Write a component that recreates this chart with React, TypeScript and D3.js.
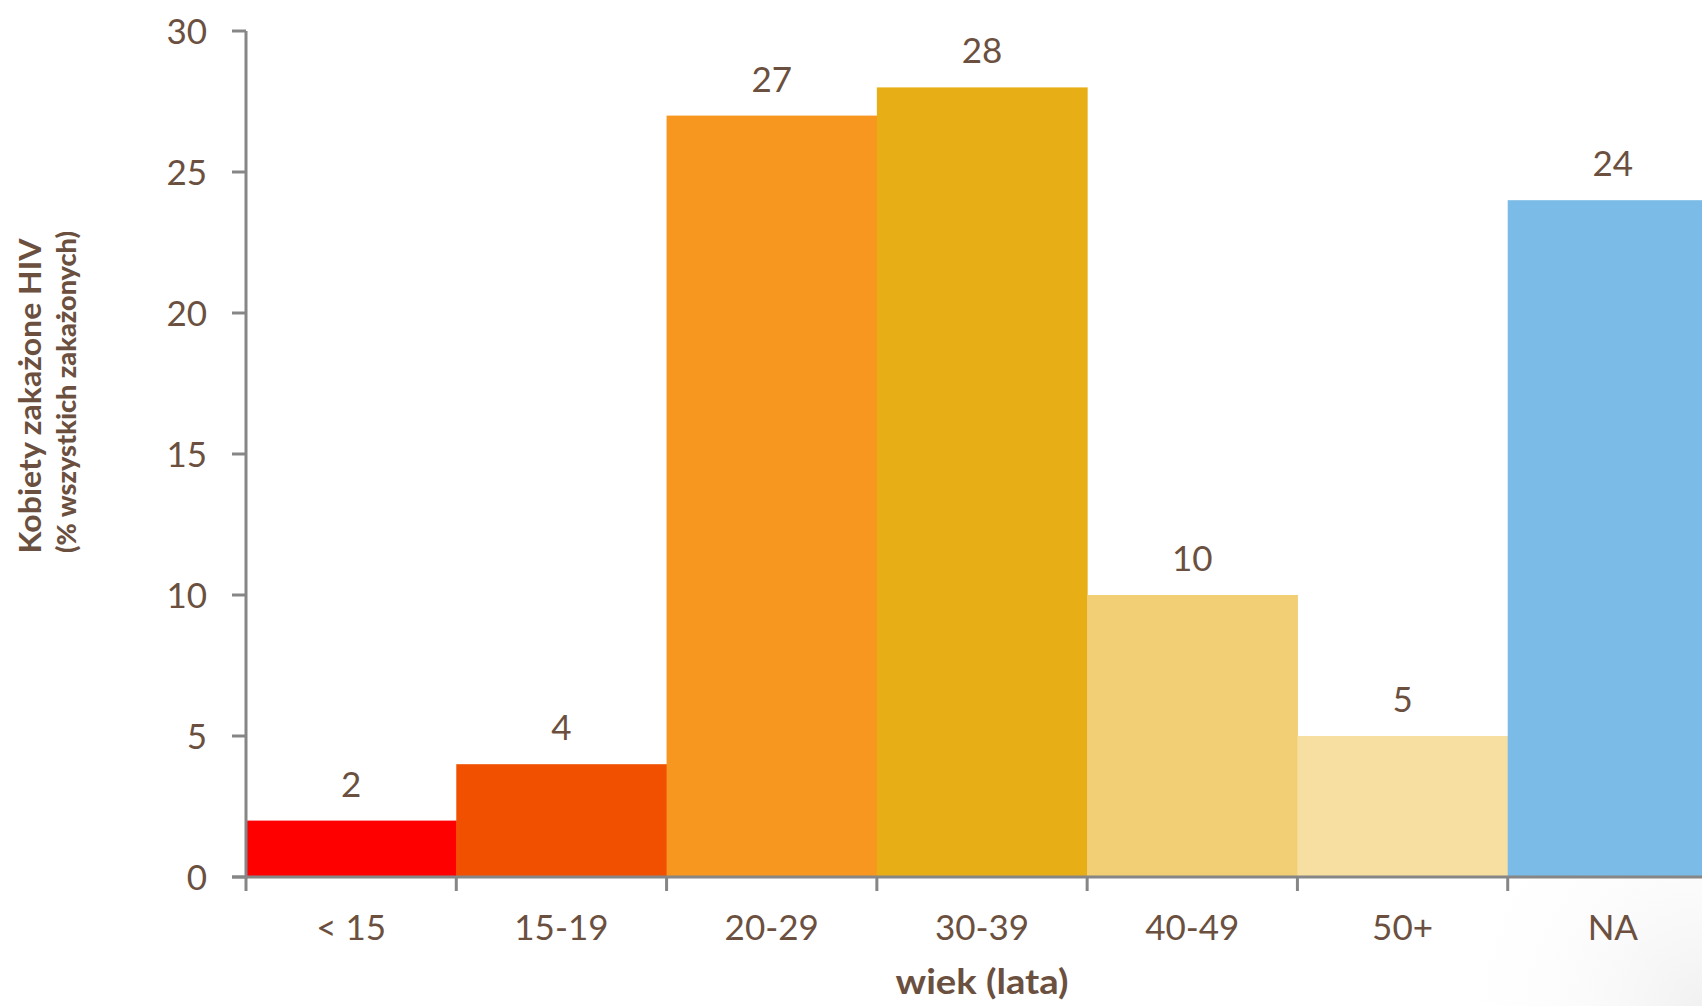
import React from "react";
import * as d3 from "d3";

const categories = ["< 15", "15-19", "20-29", "30-39", "40-49", "50+", "NA"];
const values = [2, 4, 27, 28, 10, 5, 24];
const colors = ["#FF0000", "#F05000", "#F7971F", "#E8AE16", "#F2CE75", "#F6DFA0", "#7BBBE7"];
const yTicks = [0, 5, 10, 15, 20, 25, 30];
const yTitle = "Kobiety zakażone HIV";
const ySubtitle = "(% wszystkich zakażonych)";
const xTitle = "wiek (lata)";

const W = 1702;
const H = 1006;
const left = 246;
const right = 1718;
const top = 31;
const bottom = 877;
const textColor = "#6B5040";
const axisColor = "#868686";
const font = "Lato, 'Open Sans', sans-serif";

export default function App() {
  const x = d3.scaleBand<string>().domain(categories).range([left, right]).padding(0);
  const y = d3.scaleLinear().domain([0, 30]).range([bottom, top]);
  const bw = x.bandwidth();
  const bounds = categories.map((c) => x(c) as number).concat([right]);

  return (
    <div style={{ position: "fixed", left: 0, top: 0, width: W, height: H, background: "#fff" }}>
      <svg width={W} height={H} style={{ display: "block" }}>
        <defs>
          <radialGradient id="corner" cx={W} cy={H} r={260} gradientUnits="userSpaceOnUse">
            <stop offset="0" stopColor="#f1f1f1" />
            <stop offset="1" stopColor="#ffffff" stopOpacity="0" />
          </radialGradient>
        </defs>
        <rect x={0} y={0} width={W} height={H} fill="#fff" />
        <rect x={W - 300} y={H - 300} width={300} height={300} fill="url(#corner)" />

        {categories.map((c, i) => (
          <rect
            key={c}
            x={x(c) as number}
            y={y(values[i])}
            width={bw + 0.5}
            height={bottom - y(values[i])}
            fill={colors[i]}
          />
        ))}

        {categories.map((c, i) => (
          <text
            key={"v" + c}
            x={(x(c) as number) + bw / 2}
            y={y(values[i]) - 24}
            textAnchor="middle"
            fontFamily={font}
            fontSize={35}
            fill={textColor}
          >
            {values[i]}
          </text>
        ))}

        {/* y axis */}
        <line x1={left} x2={left} y1={top} y2={bottom + 1.5} stroke={axisColor} strokeWidth={3} />
        {yTicks.map((t) => (
          <g key={"yt" + t}>
            <line x1={left - 14} x2={left} y1={y(t)} y2={y(t)} stroke={axisColor} strokeWidth={3} />
            <text
              x={207}
              y={y(t)}
              dy="0.36em"
              textAnchor="end"
              fontFamily={font}
              fontSize={35}
              fill={textColor}
            >
              {t}
            </text>
          </g>
        ))}

        {/* x axis */}
        <line x1={left - 14} x2={W} y1={bottom} y2={bottom} stroke={axisColor} strokeWidth={3} />
        {bounds.map((b, i) => (
          <line key={"xt" + i} x1={b} x2={b} y1={bottom} y2={bottom + 14} stroke={axisColor} strokeWidth={3} />
        ))}
        {categories.map((c) => (
          <text
            key={"xl" + c}
            x={(x(c) as number) + bw / 2}
            y={940}
            textAnchor="middle"
            fontFamily={font}
            fontSize={35}
            fill={textColor}
          >
            {c}
          </text>
        ))}

        <text
          x={(left + right) / 2}
          y={994}
          textAnchor="middle"
          fontFamily={font}
          fontWeight="bold"
          fontSize={34}
          fill={textColor}
          textLength={173}
          lengthAdjust="spacingAndGlyphs"
        >
          {xTitle}
        </text>

        <text
          transform={`translate(41, 396) rotate(-90)`}
          textAnchor="middle"
          fontFamily={font}
          fontWeight="bold"
          fontSize={31}
          fill={textColor}
          textLength={315}
          lengthAdjust="spacingAndGlyphs"
        >
          {yTitle}
        </text>
        <text
          transform={`translate(76, 392) rotate(-90)`}
          textAnchor="middle"
          fontFamily={font}
          fontWeight="900"
          fontSize={26}
          fill={textColor}
          textLength={322}
          lengthAdjust="spacingAndGlyphs"
        >
          {ySubtitle}
        </text>
      </svg>
    </div>
  );
}
